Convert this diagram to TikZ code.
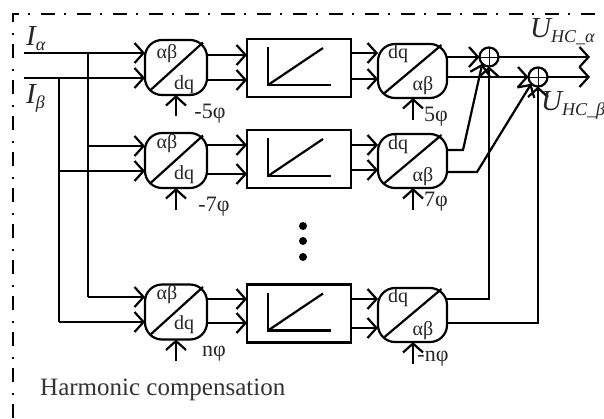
\documentclass[tikz,border=0pt]{standalone}
\usepackage{fontspec}
\setmainfont{Liberation Serif}
\usetikzlibrary{arrows.meta}
\tikzset{
  ln/.style={line width=2.2pt},
  arr/.style={ln,-{Straight Barb[length=9pt,width=20pt,line width=2.2pt]}},
  block/.style={draw,ln,rounded corners=17pt,inner sep=0,outer sep=0},
  lblock/.style={block,minimum width=62pt,minimum height=55pt},
  rblock/.style={block,minimum width=69pt,minimum height=54pt},
  box/.style={draw,ln,inner sep=0,outer sep=0,minimum width=104pt,minimum height=58pt},
  sumc/.style={draw,ln,circle,minimum size=19pt,inner sep=0,outer sep=0},
  lab/.style={inner sep=0,font=\fontsize{20}{20}\selectfont,text=black!85},
  phase/.style={inner sep=0,font=\fontsize{22}{22}\selectfont,text=black!85},
  frame/.style={line width=1.3pt,dash pattern=on 14pt off 9pt on 2pt off 11pt},
  sym/.style={inner sep=0,anchor=base west,font=\fontsize{29}{29}\selectfont\itshape,text=black!85},
  dot/.style={circle,fill=black,inner sep=0,minimum size=8pt}
}
\newcommand{\subs}[1]{\raisebox{-5pt}{\fontsize{18}{18}\selectfont #1}}
\begin{document}
\begin{tikzpicture}[x=1pt,y=-1pt]
\useasboundingbox (0,0) rectangle (604,418);
\clip (0,0) rectangle (604,418);
\fill[white] (0,0) rectangle (604,418);
% frame
\coordinate (fa) at (13,418);
\coordinate (fb) at (13,14);
\coordinate (fc) at (604,14);
\draw[frame] (fa) -- (fb) -- (fc);
% blocks
\node[lblock] (L1) at (176,67.5) {};
\node[lblock] (L2) at (176,160.5) {};
\node[lblock] (L3) at (176,312) {};
\node[box] (B1) at (299,68) {};
\node[box] (B2) at (299,159) {};
\node[box] (B3) at (299,313.5) {};
\node[rblock] (R1) at (412.5,71) {};
\node[rblock] (R2) at (412.5,161) {};
\node[rblock] (R3) at (412.5,315) {};
\node[sumc] (S1) at (489,57) {};
\node[sumc] (S2) at (538,77) {};
% plus signs
\foreach \s in {S1,S2}{
  \draw[line width=0.7pt] (\s.north) -- (\s.south) (\s.west) -- (\s.east);
}
% diagonals
\foreach \b in {L1,L2,L3}{
  \draw[ln] ([shift={(-26,23)}]\b.center) -- ([shift={(27,-25)}]\b.center);
}
\foreach \b in {R1,R2,R3}{
  \draw[ln] ([shift={(-28,22)}]\b.center) -- ([shift={(29,-26)}]\b.center);
}
% ramps
\foreach \b in {B1,B2,B3}{
  \draw[ln] ([shift={(-31,-21)}]\b.center) -- ([shift={(-31,17)}]\b.center) -- ([shift={(32,17)}]\b.center);
  \draw[ln] ([shift={(-31,17)}]\b.center) -- ([shift={(24,-20)}]\b.center);
}
% inputs
\coordinate (Ia) at (24,53);
\coordinate (Ib) at (24,78);
\coordinate (bua) at (88,53);
\coordinate (bub) at (59,78);
\draw[arr] (Ia) -- (L1.west |- Ia);
\draw[arr] (Ib) -- (L1.west |- Ib);
\draw[ln] (bua) -- (88,297);
\draw[ln] (bub) -- (59,322);
\draw[arr] (88,146) -- (L2.west |- 0,146);
\draw[arr] (59,171) -- (L2.west |- 0,171);
\draw[arr] (88,297) -- (L3.west |- 0,297);
\draw[arr] (59,322) -- (L3.west |- 0,322);
% left to box
\draw[arr] (L1.east |- 0,55) -- (B1.west |- 0,55);
\draw[arr] (L1.east |- 0,80) -- (B1.west |- 0,80);
\draw[arr] (L2.east |- 0,145) -- (B2.west |- 0,145);
\draw[arr] (L2.east |- 0,174) -- (B2.west |- 0,174);
\draw[arr] (L3.east |- 0,299) -- (B3.west |- 0,299);
\draw[arr] (L3.east |- 0,323) -- (B3.west |- 0,323);
% box to right
\draw[arr] (B1.east |- 0,53) -- (R1.west |- 0,53);
\draw[arr] (B1.east |- 0,79) -- (R1.west |- 0,79);
\draw[arr] (B2.east |- 0,145) -- (R2.west |- 0,145);
\draw[arr] (B2.east |- 0,170) -- (R2.west |- 0,170);
\draw[arr] (B3.east |- 0,299) -- (R3.west |- 0,299);
\draw[arr] (B3.east |- 0,328) -- (R3.west |- 0,328);
% right outputs
\draw[arr] (R1.east |- 0,57) -- (S1.west);
\draw[arr] (R1.east |- 0,77) -- (S2.west);
\draw[arr] (R2.east |- 0,150) -- (463,150) -- (S1.south west);
\draw[arr] (R2.east |- 0,172) -- (477,172) -- (S2.south west);
\draw[arr] (R3.east |- 0,299) -- (489,299) -- (S1.south);
\draw[arr] (R3.east |- 0,323) -- (538,323) -- (S2.south);
\coordinate (Oa) at (590,57);
\coordinate (Ob) at (590,77);
\draw[arr] (S1.east) -- (Oa);
\draw[arr] (S2.east) -- (Ob);
% phase arrows
\coordinate (p1) at (176,116);
\coordinate (p2) at (176,210);
\coordinate (p3) at (176,361);
\coordinate (q1) at (413,120);
\coordinate (q2) at (413,210);
\coordinate (q3) at (413,364);
\draw[arr] (p1) -- (p1 |- L1.south);
\draw[arr] (p2) -- (p2 |- L2.south);
\draw[arr] (p3) -- (p3 |- L3.south);
\draw[arr] (q1) -- (q1 |- R1.south);
\draw[arr] (q2) -- (q2 |- R2.south);
\draw[arr] (q3) -- (q3 |- R3.south);
% labels in blocks
\node[lab] (a1) at (167,54) {αβ};
\node[lab] (d1) at (184,85) {dq};
\node[lab] (a2) at (167,144) {αβ};
\node[lab] (d2) at (184,175) {dq};
\node[lab] (a3) at (167,295) {αβ};
\node[lab] (d3) at (184,325) {dq};
\node[lab] (e1) at (398,54) {dq};
\node[lab] (f1) at (423,86) {αβ};
\node[lab] (e2) at (398,145) {dq};
\node[lab] (f2) at (423,177) {αβ};
\node[lab] (e3) at (398,298) {dq};
\node[lab] (f3) at (423,331) {αβ};
% phase labels
\node[phase] (m5) at (210,114) {-5φ};
\node[phase] (m7) at (214,207) {-7φ};
\node[phase] (np) at (214,354) {nφ};
\node[phase] (p5) at (436,117) {5φ};
\node[phase] (p7) at (436,202) {7φ};
\node[phase] (mn) at (433,359) {-nφ};
% signals
\node[sym] (tIa) at (26,45) {I\subs{α}};
\node[sym] (tIb) at (26,103) {I\subs{β}};
\node[sym] (tUa) at (530,37) {U\subs{HC\_α}};
\node[sym] (tUb) at (541,110) {U\subs{HC\_β}};
% dots
\node[dot] (d-a) at (303,226) {};
\node[dot] (d-b) at (303,241) {};
\node[dot] (d-c) at (303,257) {};
% caption
\node[inner sep=0,anchor=base west,font=\fontsize{25}{25}\selectfont,text=black!80] (cap) at (40,395) {Harmonic compensation};
\end{tikzpicture}
\end{document}
